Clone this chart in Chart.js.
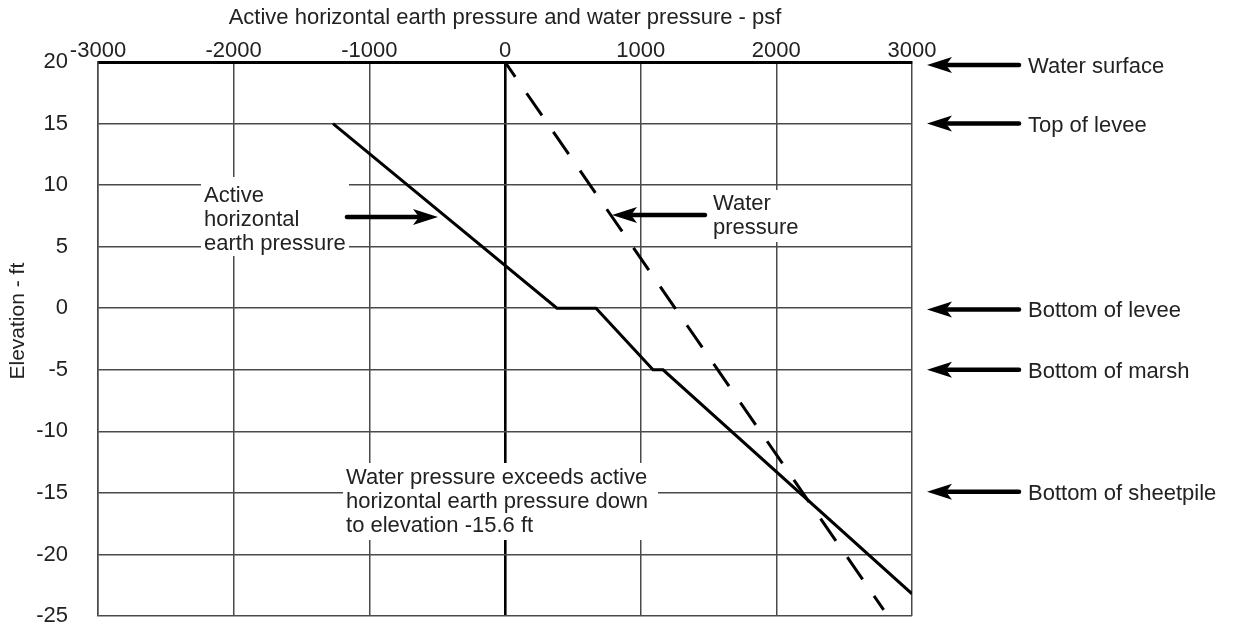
<!DOCTYPE html>
<html>
<head>
<meta charset="utf-8">
<script src="https://cdn.jsdelivr.net/npm/chart.js@4/dist/chart.umd.min.js"></script>
<style>
  body { margin: 0; background: #fff; }
</style>
</head>
<body>
<canvas id="chart" width="1233" height="625"></canvas>
<script>
// earth pressure profile (psf vs elevation ft)
const earthPressure = [-1268, 383, 671, 1091, 1165, 3000];
const earthElevation = [15, 0, 0, -5, -5, -23.2];
// water pressure profile
const waterPressure = [0, 2791];
const waterElevation = [20, -24.5];

// levels marked at the right
const levelNames = ['Water surface', 'Top of levee', 'Bottom of levee', 'Bottom of marsh', 'Bottom of sheetpile'];
const levelElevations = [19.75, 15, -0.1, -5, -14.9];

const xTitle = 'Active horizontal earth pressure and water pressure - psf';
const yTitle = 'Elevation - ft';

const FONT = "'Liberation Sans', Arial, sans-serif";
const TEXT = '#222';

// in-plot notes: box top-left in data units, size in px
const notes = [
  { lines: ['Active', 'horizontal', 'earth pressure'], x: -2241, y: 10.66, w: 148, h: 79, base: 25 },
  { lines: ['Water', 'pressure'], x: 1511, y: 9.6, w: 100, h: 52, base: 20 },
  { lines: ['Water pressure exceeds active', 'horizontal earth pressure down', 'to elevation -15.6 ft'], x: -1194, y: -12.57, w: 315, h: 77, base: 21 }
];
// arrows pointing at the lines: [tailX, tipX, elevation]
const noteArrows = [
  [-1165, -494, 7.4],
  [1474, 789, 7.57]
];

function toPoints(xs, ys) {
  return xs.map((x, i) => ({ x: x, y: ys[i] }));
}

function drawArrow(ctx, x1, y, x2) {
  const dir = x2 > x1 ? 1 : -1;
  const headLen = 25, half = 8;
  ctx.save();
  ctx.strokeStyle = '#000';
  ctx.fillStyle = '#000';
  ctx.lineWidth = 4.5;
  ctx.lineCap = 'round';
  ctx.beginPath();
  ctx.moveTo(x1, y);
  ctx.lineTo(x2 - dir * (headLen - 4), y);
  ctx.stroke();
  ctx.beginPath();
  ctx.moveTo(x2, y);
  ctx.lineTo(x2 - dir * headLen, y - half);
  ctx.lineTo(x2 - dir * (headLen - 6), y);
  ctx.lineTo(x2 - dir * headLen, y + half);
  ctx.closePath();
  ctx.fill();
  ctx.restore();
}

const notesPlugin = {
  id: 'notes',
  beforeDatasetsDraw(chart) {
    const ctx = chart.ctx;
    const xs = chart.scales.x, ys = chart.scales.y;
    ctx.save();
    ctx.font = '22px ' + FONT;
    ctx.textAlign = 'left';
    ctx.textBaseline = 'alphabetic';
    notes.forEach(n => {
      const px = xs.getPixelForValue(n.x);
      const py = ys.getPixelForValue(n.y);
      ctx.fillStyle = '#fff';
      ctx.fillRect(px, py, n.w, n.h);
      ctx.fillStyle = TEXT;
      n.lines.forEach((t, i) => ctx.fillText(t, px + 3, py + n.base + i * 24));
    });
    ctx.restore();
  },
  afterDatasetsDraw(chart) {
    const ctx = chart.ctx;
    const xs = chart.scales.x, ys = chart.scales.y;
    const right = chart.chartArea.right;
    noteArrows.forEach(a => {
      drawArrow(ctx, xs.getPixelForValue(a[0]), ys.getPixelForValue(a[2]), xs.getPixelForValue(a[1]));
    });
    ctx.save();
    ctx.font = '22px ' + FONT;
    ctx.fillStyle = TEXT;
    ctx.textAlign = 'left';
    ctx.textBaseline = 'alphabetic';
    levelNames.forEach((name, i) => {
      const y = ys.getPixelForValue(levelElevations[i]);
      drawArrow(ctx, right + 107, y, right + 15);
      ctx.fillText(name, right + 116, y + 8);
    });
    // y axis title, centred a little below elevation 0
    ctx.font = '21px ' + FONT;
    ctx.textAlign = 'center';
    ctx.textBaseline = 'middle';
    ctx.translate(18, ys.getPixelForValue(-1.05));
    ctx.rotate(-Math.PI / 2);
    ctx.fillText(yTitle, 0, 0);
    ctx.restore();
  }
};

new Chart(document.getElementById('chart'), {
  type: 'scatter',
  data: {
    datasets: [
      {
        label: 'Active horizontal earth pressure',
        data: toPoints(earthPressure, earthElevation),
        showLine: true,
        borderColor: '#000',
        borderWidth: 3,
        pointRadius: 0,
        tension: 0
      },
      {
        label: 'Water pressure',
        data: toPoints(waterPressure, waterElevation),
        showLine: true,
        borderColor: '#000',
        borderWidth: 3,
        borderDash: [27, 20],
        borderDashOffset: 9,
        pointRadius: 0
      }
    ]
  },
  options: {
    responsive: false,
    animation: false,
    layout: { padding: { left: 0, top: 0, right: 321, bottom: 9 } },
    plugins: {
      legend: { display: false },
      tooltip: { enabled: false }
    },
    scales: {
      x: {
        type: 'linear',
        position: 'top',
        min: -3000,
        max: 3000,
        ticks: { stepSize: 1000, color: TEXT, font: { family: FONT, size: 22 }, padding: -2, maxRotation: 0, autoSkip: false, callback: v => String(v) },
        grid: {
          drawTicks: false,
          color: ctx => ctx.tick && ctx.tick.value === 0 ? '#000' : '#4a4a4a',
          lineWidth: ctx => ctx.tick && ctx.tick.value === 0 ? 2.6 : 1.5
        },
        border: { display: true, color: '#000', width: 3 },
        title: { display: true, text: xTitle, color: TEXT, font: { family: FONT, size: 22 }, padding: { top: 5, bottom: 0 } },
        afterFit: s => { s.height = 62; }
      },
      y: {
        type: 'linear',
        min: -25,
        max: 20,
        ticks: { stepSize: 5, color: TEXT, font: { family: FONT, size: 22, lineHeight: 0.7 }, padding: 0, callback: v => String(v) },
        grid: { drawTicks: true, tickLength: 30, tickColor: 'rgba(0,0,0,0)', color: '#4a4a4a', lineWidth: 1.5 },
        border: { display: true, color: '#4a4a4a', width: 1.5 },
        title: { display: false },
        afterFit: s => { s.width = 98; }
      }
    }
  },
  plugins: [notesPlugin]
});
</script>
</body>
</html>
